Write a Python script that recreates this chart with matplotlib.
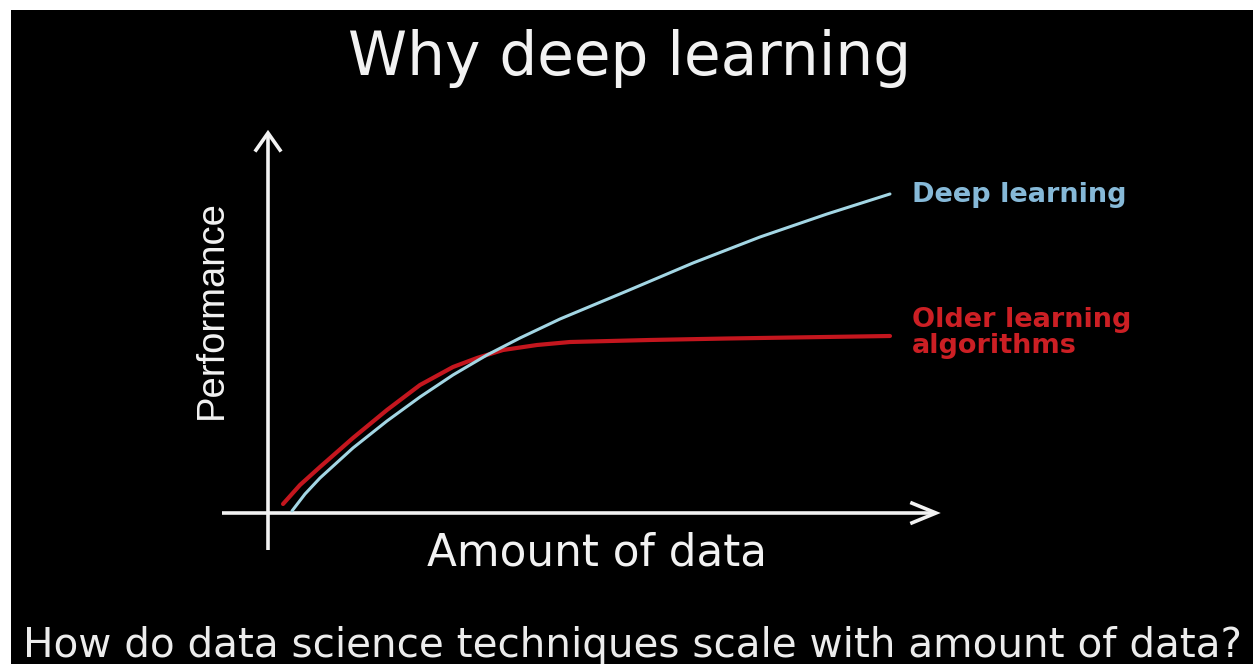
import matplotlib
matplotlib.use("Agg")
import matplotlib.pyplot as plt
from matplotlib.patches import Rectangle
from matplotlib import font_manager as fm

# ---- data (conceptual performance vs amount of data, 0-100 scale) ----
deep_x = [3.59, 5.54, 7.78, 12.72, 17.81, 22.75, 27.69, 32.78, 37.72, 43.71,
          53.74, 63.62, 73.65, 83.68, 93.11]
deep_y = [0.53, 5.0, 9.21, 17.11, 24.21, 30.53, 36.32, 41.58, 46.05, 51.05,
          58.42, 65.79, 72.63, 78.68, 83.95]

old_x = [2.25, 4.79, 7.78, 12.72, 17.81, 22.75, 27.69, 31.29, 35.18, 40.27,
         45.21, 57.19, 68.71, 93.11]
old_y = [2.37, 7.37, 12.11, 19.74, 27.11, 33.68, 38.42, 40.79, 42.89, 44.21,
         45.0, 45.53, 45.92, 46.58]

title = "Why deep learning"
xlabel = "Amount of data"
ylabel = "Performance"
deep_label = "Deep learning"
old_label = ["Older learning", "algorithms"]
caption = "How do data science techniques scale with amount of data?"

# ---- figure ----
W, H = 1253, 664
fig = plt.figure(figsize=(W / 100, H / 100), dpi=100, facecolor="white")
bg = Rectangle((11 / W, 0), 1, (H - 10) / H, transform=fig.transFigure,
               facecolor="black", edgecolor="none", zorder=-10)
fig.add_artist(bg)

ax = fig.add_axes([0, 0, 1, 1])
ax.set_zorder(1)
# origin of the plot at pixel (268, 513); 100 units = 668 px in x, 380 px in y
sx, sy = 6.68, 3.8
ax.set_xlim(-268 / sx, (W - 268) / sx)
ax.set_ylim(-(H - 513) / sy, 513 / sy)
ax.axis("off")

white = "#f2f2f2"
axlw = 2.6
# axes with arrows
ax.plot([0, 0], [-9.7, 100], color=white, lw=axlw, solid_capstyle="butt")
ax.plot([-6.9, 100], [0, 0], color=white, lw=axlw, solid_capstyle="butt")
ax.plot([-1.8, 0, 1.8], [95.5, 100, 95.5], color=white, lw=axlw, solid_joinstyle="miter")
ax.plot([96.4, 100, 96.4], [2.6, 0, -2.6], color=white, lw=axlw, solid_joinstyle="miter")

# curves
ax.plot(old_x, old_y, color="#c4161e", lw=3.0, solid_capstyle="round",
        solid_joinstyle="round", zorder=3)
ax.plot(deep_x, deep_y, color="#a3d6e4", lw=2.2, solid_capstyle="round",
        solid_joinstyle="round", zorder=4)

# labels
ax.text(54.2, 115.3, title, color=white, fontsize=43, ha="center", va="baseline",
        family="DejaVu Sans")
ax.text(23.8, -13.9, xlabel, color=white, fontsize=31.5, ha="left", va="baseline",
        family="DejaVu Sans")

names = {f.name for f in fm.fontManager.ttflist}
if "Liberation Sans Narrow" in names:
    perf_family, perf_size = "Liberation Sans Narrow", 33
else:
    perf_family, perf_size = "Liberation Sans", 27.5
ax.text(-8.4, 53.5, ylabel, color=white, fontsize=perf_size, rotation=90,
        ha="center", va="center", family=perf_family)

ax.text(96.4, (513 - 202) / sy, deep_label, color="#86b9d8", fontsize=19.5,
        fontweight="bold", ha="left", va="baseline", family="DejaVu Sans")
ax.text(96.4, (513 - 327) / sy, old_label[0], color="#cc1f24", fontsize=19.5,
        fontweight="bold", ha="left", va="baseline", family="DejaVu Sans")
ax.text(96.4, (513 - 353) / sy, old_label[1], color="#cc1f24", fontsize=19.5,
        fontweight="bold", ha="left", va="baseline", family="DejaVu Sans")

ax.text(-245 / sx, (513 - 657) / sy, caption, color="#ececec", fontsize=29.2,
        ha="left", va="baseline", family="DejaVu Sans")

fig.savefig("out.png", dpi=100, facecolor=fig.get_facecolor())
